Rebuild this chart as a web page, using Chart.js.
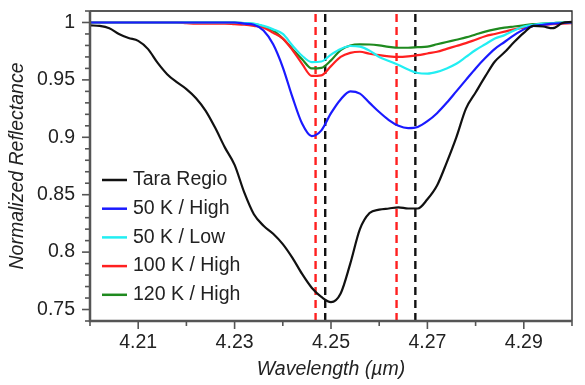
<!DOCTYPE html>
<html>
<head>
<meta charset="utf-8">
<script src="https://cdn.jsdelivr.net/npm/chart.js@4"></script>
<style>
  html, body { margin: 0; padding: 0; background: #fff; }
  #wrap { width: 585px; height: 385px; }
</style>
</head>
<body>
<div id="wrap"><canvas id="chart-spectra"></canvas></div>
<script>
// wavelength grid (µm)
const wavelengths = [
  4.200, 4.202, 4.204, 4.206, 4.208, 4.210, 4.212, 4.214, 4.216, 4.218,
  4.220, 4.222, 4.224, 4.226, 4.228, 4.230, 4.232, 4.234, 4.236, 4.238,
  4.240, 4.242, 4.244, 4.246, 4.248, 4.250, 4.252, 4.254, 4.256, 4.258,
  4.260, 4.262, 4.264, 4.266, 4.268, 4.270, 4.272, 4.274, 4.276, 4.278,
  4.280, 4.282, 4.284, 4.286, 4.288, 4.290, 4.292, 4.294, 4.296, 4.298,
  4.300
];

const taraRegio = [
  0.9975, 0.997, 0.995, 0.990, 0.9865, 0.984, 0.977, 0.965, 0.955, 0.948,
  0.942, 0.934, 0.923, 0.908, 0.891, 0.876, 0.852, 0.833, 0.823, 0.816,
  0.807, 0.795, 0.781, 0.769, 0.761, 0.7565, 0.764, 0.790, 0.820, 0.834,
  0.837, 0.838, 0.839, 0.838, 0.838, 0.846, 0.858, 0.878, 0.900, 0.925,
  0.939, 0.953, 0.966, 0.974, 0.983, 0.991, 0.997, 0.9965, 0.995, 0.9995,
  1.0005
];

const k50High = [
  1, 1, 1, 1, 1, 1, 1, 1, 1, 1,
  1, 1, 1, 1, 1, 1, 0.999, 0.998, 0.993, 0.981,
  0.961, 0.935, 0.912, 0.901, 0.906, 0.921, 0.933, 0.940, 0.938, 0.930,
  0.922, 0.915, 0.910, 0.908, 0.909, 0.914, 0.921, 0.930, 0.940, 0.950,
  0.960, 0.969, 0.977, 0.983, 0.989, 0.994, 0.997, 0.998, 0.999, 0.9995,
  1
];

const k50Low = [
  1, 1, 1, 1, 1, 1, 1, 1, 1, 1,
  1, 1, 1, 1, 1, 1, 0.9995, 0.999, 0.997, 0.994,
  0.990, 0.980, 0.971, 0.9655, 0.966, 0.972, 0.977, 0.9795, 0.979, 0.9755,
  0.970, 0.9665, 0.963, 0.959, 0.956, 0.9555, 0.957, 0.960, 0.964, 0.970,
  0.976, 0.981, 0.986, 0.989, 0.993, 0.9965, 0.998, 0.999, 0.9995, 1,
  1
];

const k100High = [
  1, 1, 1, 1, 1, 1, 1, 1, 1, 1,
  0.9995, 0.999, 0.999, 0.999, 0.999, 0.9985, 0.998, 0.997, 0.9955, 0.991,
  0.986, 0.976, 0.964, 0.9535, 0.954, 0.962, 0.970, 0.9735, 0.9745, 0.9728,
  0.9715, 0.9705, 0.970, 0.9705, 0.9715, 0.973, 0.9745, 0.977, 0.9795, 0.982,
  0.985, 0.988, 0.990, 0.992, 0.994, 0.9955, 0.997, 0.998, 0.9985, 0.999,
  0.9995
];

const k120High = [
  1, 1, 1, 1, 1, 1, 1, 1, 1, 1,
  1, 1, 1, 1, 1, 1, 0.9995, 0.9985, 0.9965, 0.993,
  0.986, 0.977, 0.968, 0.960, 0.9605, 0.967, 0.976, 0.980, 0.981, 0.9808,
  0.980, 0.9788, 0.978, 0.978, 0.9785, 0.979, 0.981, 0.983, 0.985, 0.987,
  0.9895, 0.992, 0.994, 0.9955, 0.9965, 0.9975, 0.9985, 0.999, 0.9995, 1,
  1
];

// band positions marked with dashed lines
const redBands = [4.2468, 4.2636];
const blackBands = [4.2488, 4.2675];

const xTickLabels = [4.21, 4.23, 4.25, 4.27, 4.29];
const yTickLabels = [0.75, 0.8, 0.85, 0.9, 0.95, 1];

const Y_MIN = 0.74, Y_MAX = 1.01;
const FONT = '"Liberation Sans", Arial, sans-serif';
const FONT_SIZE = 19.5;
const TEXT = '#222';

const toPoints = (vals) => wavelengths.map((w, i) => ({ x: w, y: vals[i] }));

const curve = (label, vals, color) => ({
  label,
  data: toPoints(vals),
  borderColor: color,
  borderWidth: 2.2,
  pointRadius: 0,
  cubicInterpolationMode: 'monotone'
});

const band = (x, color) => ({
  label: '',
  isBand: true,
  data: [{ x, y: Y_MIN }, { x, y: Y_MAX }],
  borderColor: color,
  borderWidth: 2.4,
  borderDash: [8, 5],
  pointRadius: 0
});

const datasets = [
  curve('Tara Regio', taraRegio, '#111111'),
  curve('50 K / High', k50High, '#1a1aff'),
  curve('50 K / Low', k50Low, '#22eef2'),
  curve('100 K / High', k100High, '#ff2020'),
  curve('120 K / High', k120High, '#1f8a1f'),
  ...redBands.map(x => band(x, '#ff2020')),
  ...blackBands.map(x => band(x, '#111111'))
];

// frame, tick marks and legend drawn on top
const framePlugin = {
  id: 'frame',
  afterDraw(chart) {
    const { ctx, chartArea: a, scales: { x, y } } = chart;
    ctx.save();

    // ticks
    ctx.strokeStyle = '#555';
    ctx.lineWidth = 1.6;
    for (let i = 0; i <= 10; i++) {
      const v = 4.2 + i * 0.01;
      const px = x.getPixelForValue(v);
      const major = xTickLabels.some(t => Math.abs(t - v) < 1e-6);
      ctx.beginPath();
      ctx.moveTo(px, a.bottom);
      ctx.lineTo(px, a.bottom + (major ? 8 : 5));
      ctx.stroke();
    }
    for (let i = 0; i <= 27; i++) {
      const v = Y_MIN + i * 0.01;
      const py = y.getPixelForValue(v);
      const major = yTickLabels.some(t => Math.abs(t - v) < 1e-6);
      ctx.beginPath();
      ctx.moveTo(a.left, py);
      ctx.lineTo(a.left - (major ? 8 : 5), py);
      ctx.stroke();
    }

    // top and right borders
    ctx.strokeStyle = '#222';
    ctx.lineWidth = 1.3;
    ctx.beginPath();
    ctx.moveTo(a.left, a.top);
    ctx.lineTo(a.right, a.top);
    ctx.lineTo(a.right, a.bottom);
    ctx.stroke();

    // left and bottom axes
    ctx.strokeStyle = '#555';
    ctx.lineWidth = 2.5;
    ctx.beginPath();
    ctx.moveTo(a.left, a.top);
    ctx.lineTo(a.left, a.bottom);
    ctx.lineTo(a.right, a.bottom);
    ctx.stroke();

    // legend
    ctx.font = FONT_SIZE + 'px ' + FONT;
    ctx.textBaseline = 'middle';
    ctx.textAlign = 'left';
    chart.data.datasets.filter(d => !d.isBand).forEach((d, i) => {
      const ly = a.top + 169 + i * 28.7;
      ctx.strokeStyle = d.borderColor;
      ctx.lineWidth = 2.5;
      ctx.beginPath();
      ctx.moveTo(a.left + 12, ly);
      ctx.lineTo(a.left + 37, ly);
      ctx.stroke();
      ctx.fillStyle = TEXT;
      ctx.fillText(d.label, a.left + 43, ly);
    });

    ctx.restore();
  }
};

new Chart(document.getElementById('chart-spectra'), {
  type: 'line',
  data: { datasets },
  options: {
    responsive: true,
    maintainAspectRatio: false,
    animation: false,
    layout: { padding: { top: 11, right: 13, left: 0, bottom: 0 } },
    plugins: {
      legend: { display: false },
      tooltip: { enabled: false }
    },
    scales: {
      x: {
        type: 'linear',
        min: 4.2,
        max: 4.3,
        grid: { display: false, drawTicks: false },
        border: { display: false },
        afterBuildTicks: (s) => { s.ticks = xTickLabels.map(v => ({ value: v })); },
        afterFit: (s) => { s.height = 64; s.paddingLeft = 0; s.paddingRight = 0; },
        ticks: {
          padding: 10,
          color: TEXT,
          font: { family: FONT, size: FONT_SIZE },
          callback: (v) => v.toFixed(2)
        },
        title: {
          display: true,
          text: 'Wavelength (µm)',
          color: TEXT,
          font: { family: FONT, size: FONT_SIZE, style: 'italic' },
          padding: { top: 0, bottom: 4 }
        }
      },
      y: {
        min: Y_MIN,
        max: Y_MAX,
        grid: { display: false, drawTicks: false },
        border: { display: false },
        afterBuildTicks: (s) => { s.ticks = yTickLabels.map(v => ({ value: v })); },
        afterFit: (s) => { s.width = 90; s.paddingTop = 0; s.paddingBottom = 0; },
        ticks: {
          padding: 15,
          color: TEXT,
          font: { family: FONT, size: FONT_SIZE },
          callback: (v) => String(+v.toFixed(2))
        },
        title: {
          display: true,
          text: 'Normalized Reflectance',
          color: TEXT,
          font: { family: FONT, size: FONT_SIZE, style: 'italic' },
          padding: { top: 6, bottom: 0 }
        }
      }
    }
  },
  plugins: [framePlugin]
});
</script>
</body>
</html>
